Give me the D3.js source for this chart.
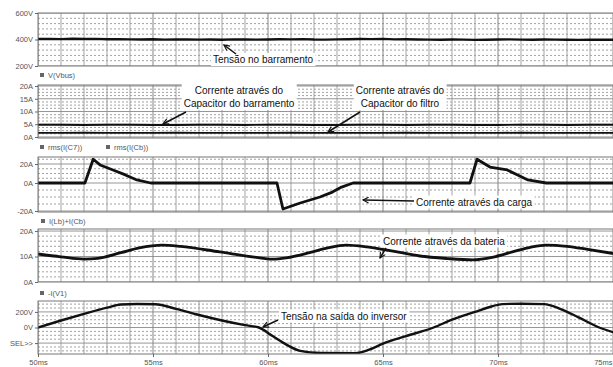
<!DOCTYPE html>
<html><head><meta charset="utf-8">
<script src="https://cdn.jsdelivr.net/npm/d3@7"></script>
<style>
body{margin:0;background:#fff}
svg{display:block}
text{font-family:"Liberation Sans",Arial,sans-serif}
</style>
</head><body>
<svg id="c" width="613" height="367"></svg>
<script>
// ---- time axis (ms) ----
const timeTicks = [50, 55, 60, 65, 70, 75];
const timeLabels = ["50ms", "55ms", "60ms", "65ms", "70ms", "75ms"];

// ---- panel 1: DC bus voltage, V(Vbus), every 0.5 ms ----
const busTime = d3.range(50, 75.001, 0.5);
const busVolt = [404,405,403,406,404,405,402,403,401,400,402,399,400,401,399,400,398,401,400,399,
                 400,402,401,403,400,399,401,402,404,403,405,401,402,400,399,398,400,399,397,398,
                 400,401,399,398,400,399,398,397,398,399,398];

// ---- panel 2: rms capacitor currents, every 1 ms ----
const rmsTime = d3.range(50, 75.001, 1);
const rmsBusCap = [4.8,4.8,4.7,4.8,4.8,4.7,4.7,4.8,4.8,4.7,4.8,4.8,4.7,4.7,4.8,4.8,4.7,4.8,4.8,4.7,4.7,4.8,4.8,4.7,4.8,4.8];
const rmsFilterCap = [1.6,1.6,1.7,1.6,1.6,1.6,1.7,1.6,1.6,1.6,1.6,1.7,1.6,1.6,1.6,1.6,1.7,1.6,1.6,1.6,1.6,1.7,1.6,1.6,1.6,1.6];

// ---- panel 3: load current ----
const loadTime = [50, 52.04, 52.4, 52.7, 53.26, 53.8, 54.3, 54.9, 60.39, 60.65, 61.4, 62.26, 62.8, 63.2, 63.7,
                  68.78, 69.09, 69.65, 70.4, 70.9, 71.3, 72.1, 75];
const loadCurr = [0, 0, 25, 19, 13.7, 8.5, 3.2, 0, 0, -18.6, -14.3, -10, -6.5, -2.9, 0,
                  0, 25, 16.8, 13.7, 8, 3.2, 0, 0];

// ---- panel 4: battery current ----
const batTime = [50, 51, 52, 52.6, 53.6, 54.4, 55.4, 56.2, 57.9, 59.4, 60.2, 60.8, 61.8, 62.6, 63.4,
                 64.3, 65.5, 66.6, 67.8, 68.9, 69.8, 70.7, 71.4, 72.1, 73, 73.9, 75];
const batCurr = [11.0, 9.9, 9.0, 9.3, 11.5, 13.4, 14.5, 14.0, 11.8, 9.8, 9.0, 9.5, 11.5, 13.4, 14.5,
                 13.8, 12.0, 10.2, 9.2, 8.7, 9.8, 12.0, 13.6, 14.5, 14.0, 12.8, 11.2];

// ---- panel 5: inverter output voltage ----
const outTime = [50, 51, 52, 53, 53.6, 54.3, 55.1, 56, 57, 58, 59, 59.6, 60.2, 60.8, 61.4, 62.3, 63.8, 64.4,
                 65, 66, 67.2, 68, 69, 69.6, 70.2, 71, 72, 72.7, 73.5, 74.4, 75];
const outVolt = [0, 90, 175, 255, 295, 302, 298, 240, 160, 90, 30, 0, -110, -220, -300, -327, -330, -285,
                 -207, -110, 0, 100, 200, 260, 300, 305, 300, 240, 130, 0, -60];

const W = 613, H = 367, X0 = 38, X1 = 613;
const svg = d3.select("#c");
svg.append("rect").attr("width", W).attr("height", H).attr("fill", "#fff");

const x = d3.scaleLinear().domain([50, 75]).range([X0, X1]);
const gridTimes = d3.range(50, 75.001, 1);

// arrowhead
svg.append("defs").append("marker")
  .attr("id", "arr").attr("viewBox", "0 0 10 10").attr("refX", 9).attr("refY", 5)
  .attr("markerWidth", 7).attr("markerHeight", 7).attr("orient", "auto-start-reverse")
  .attr("markerUnits", "userSpaceOnUse")
  .append("path").attr("d", "M1,1 L9,5 L1,9").attr("fill", "none").attr("stroke", "#111").attr("stroke-width", 1.6);

const panels = [
  { top: 13, bottom: 66, y: d3.scaleLinear().domain([200, 600]).range([66, 13]),
    ticks: [600, 400, 200], fmt: d => d + "V", minor: d3.range(200, 600.1, 40) },
  { top: 85, bottom: 138, y: d3.scaleLinear().domain([-0.4, 20.4]).range([138, 85]),
    ticks: [20, 15, 10, 5, 0], fmt: d => d + "A", minor: d3.range(0, 20.1, 1.25) },
  { top: 157, bottom: 212, y: d3.scaleLinear().domain([-20, 0, 20]).range([211, 183, 164]),
    ticks: [20, 0, -20], fmt: d => d + "A", minor: d3.range(-20, 25.1, 5) },
  { top: 229, bottom: 282, y: d3.scaleLinear().domain([0, 20.8]).range([282, 229]),
    ticks: [20, 10, 0], fmt: d => d + "A", minor: d3.range(0, 20.1, 2) },
  { top: 301, bottom: 354, y: d3.scaleLinear().domain([-340, 340]).range([354, 301]),
    ticks: [200, 0, -200], fmt: d => d === -200 ? "SEL>>" : d + "V", minor: d3.range(-300, 300.1, 50) }
];

panels.forEach(p => {
  const g = svg.append("g");
  const clipId = "clip" + p.top;
  svg.select("defs").append("clipPath").attr("id", clipId)
    .append("rect").attr("x", X0).attr("y", p.top).attr("width", X1 - X0).attr("height", p.bottom - p.top);
  const gg = g.append("g").attr("clip-path", `url(#${clipId})`);
  // minor horizontal dotted lines
  gg.selectAll(".mh").data(p.minor.filter(v => !p.ticks.includes(v))).join("line")
    .attr("x1", X0).attr("x2", X1).attr("y1", d => p.y(d)).attr("y2", d => p.y(d))
    .attr("stroke", "#8a8a8a").attr("stroke-width", 0.8).attr("stroke-dasharray", "2,2");
  // vertical grid every 1 ms
  gg.selectAll(".vg").data(gridTimes).join("line")
    .attr("x1", d => x(d)).attr("x2", d => x(d)).attr("y1", p.top).attr("y2", p.bottom)
    .attr("stroke", d => d % 5 === 0 ? "#777" : "#9a9a9a").attr("stroke-width", 0.9);
  // major horizontal lines
  gg.selectAll(".mj").data(p.ticks).join("line")
    .attr("x1", X0).attr("x2", X1).attr("y1", d => p.y(d)).attr("y2", d => p.y(d))
    .attr("stroke", "#8a8a8a").attr("stroke-width", 0.9);
  // frame
  g.append("rect").attr("x", X0).attr("y", p.top).attr("width", X1 - X0 + 2).attr("height", p.bottom - p.top)
    .attr("fill", "none").attr("stroke", "#777").attr("stroke-width", 1);
  // left axis
  const ax = g.append("g").attr("transform", `translate(${X0},0)`)
    .call(d3.axisLeft(p.y).tickValues(p.ticks).tickFormat(p.fmt).tickSize(3).tickPadding(2));
  ax.select(".domain").remove();
  ax.selectAll("line").attr("stroke", "#666");
  ax.selectAll("text").attr("font-size", 7.5).attr("fill", "#555").attr("font-family", "'Liberation Sans',Arial,sans-serif");
  p.g = gg;
});

// x axis under the last panel
const xa = svg.append("g").attr("transform", `translate(0,${panels[4].bottom})`)
  .call(d3.axisBottom(x).tickValues(timeTicks).tickFormat((d, i) => timeLabels[i]).tickSize(3).tickPadding(3));
xa.select(".domain").remove();
xa.selectAll("line").attr("stroke", "#666");
xa.selectAll("text").attr("font-size", 7.5).attr("fill", "#555").attr("font-family", "'Liberation Sans',Arial,sans-serif");
xa.selectAll(".tick").filter(d => d === 75).select("text").attr("text-anchor", "end").attr("dx", -1);

// traces
function trace(p, ts, vs, width, curve) {
  const line = d3.line().x(d => x(d[0])).y(d => p.y(d[1])).curve(curve || d3.curveLinear);
  p.g.append("path").datum(ts.map((t, i) => [t, vs[i]]))
    .attr("d", line).attr("fill", "none").attr("stroke", "#111")
    .attr("stroke-width", width).attr("stroke-linejoin", "round").attr("stroke-linecap", "round");
}
trace(panels[0], busTime, busVolt, 2.4);
trace(panels[1], rmsTime, rmsBusCap, 1.8);
trace(panels[1], rmsTime, rmsFilterCap, 1.8);
trace(panels[2], loadTime, loadCurr, 2.8);
trace(panels[3], batTime, batCurr, 2.8, d3.curveMonotoneX);
trace(panels[4], outTime, outVolt, 2.4, d3.curveMonotoneX);

// legends
function legend(yc, items) {
  items.forEach(it => {
    svg.append("rect").attr("x", it.x).attr("y", yc - 2).attr("width", 4).attr("height", 4).attr("fill", "#666");
    svg.append("text").attr("x", it.x + 8).attr("y", yc + 2.7).attr("font-size", 7.5).attr("fill", "#555").text(it.t);
  });
}
legend(75, [{ x: 40, t: "V(Vbus)" }]);
legend(147, [{ x: 40, t: "rms(I(C7))" }, { x: 106, t: "rms(I(Cb))" }]);
legend(221, [{ x: 41, t: "I(Lb)+I(Cb)" }]);
legend(293, [{ x: 40, t: "-I(V1)" }]);

// annotations
function note(lines, cx, y0, anchor) {
  const g = svg.append("g");
  const texts = lines.map((s, i) => g.append("text").attr("x", cx).attr("y", y0 + i * 13.5)
    .attr("font-size", 10).attr("fill", "#111").attr("text-anchor", anchor || "middle").text(s));
  let bb = null;
  texts.forEach(t => {
    const b = t.node().getBBox();
    bb = bb ? { x: Math.min(bb.x, b.x), y: Math.min(bb.y, b.y), x2: Math.max(bb.x2, b.x + b.width), y2: Math.max(bb.y2, b.y + b.height) }
            : { x: b.x, y: b.y, x2: b.x + b.width, y2: b.y + b.height };
  });
  g.insert("rect", "text").attr("x", bb.x - 2).attr("y", bb.y - 1).attr("width", bb.x2 - bb.x + 4).attr("height", bb.y2 - bb.y + 2)
    .attr("fill", "#fff");
}
function arrow(x1, y1, x2, y2) {
  svg.append("line").attr("x1", x1).attr("y1", y1).attr("x2", x2).attr("y2", y2)
    .attr("stroke", "#111").attr("stroke-width", 1.5).attr("marker-end", "url(#arr)");
}
note(["Tensão no barramento"], 213, 63, "start");
arrow(236, 54, 224, 45);
note(["Corrente através do", "Capacitor do barramento"], 239, 93.5);
arrow(186, 112, 163, 124);
note(["Corrente através do", "Capacitor do filtro"], 400, 93.5);
arrow(360, 112, 328, 132);
note(["Corrente através da carga"], 416, 205.5, "start");
arrow(414, 201, 363, 200);
note(["Corrente através da bateria"], 383, 244.5, "start");
arrow(386, 248, 380, 258);
note(["Tensão na saída do inversor"], 281, 319.5, "start");
arrow(278, 320, 263, 327);
</script>
</body></html>
